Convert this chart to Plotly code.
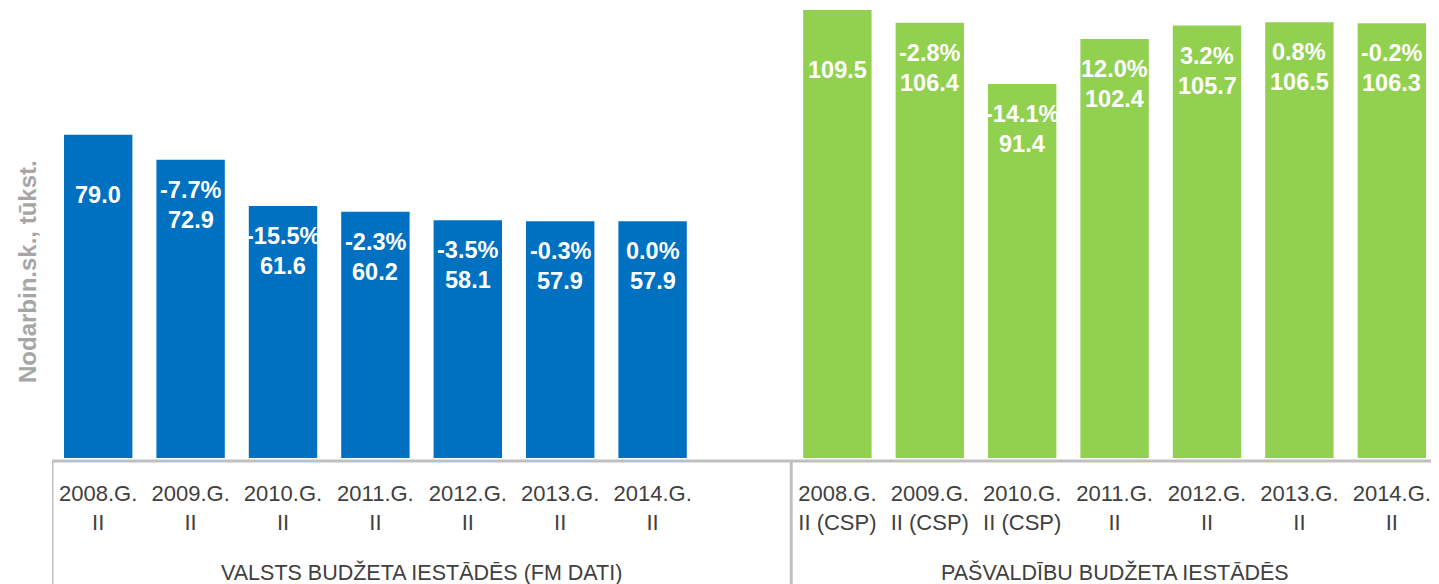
import plotly.graph_objects as go

# ---- data ----
left_labels = ["2008.G.<br>II", "2009.G.<br>II", "2010.G.<br>II", "2011.G.<br>II",
               "2012.G.<br>II", "2013.G.<br>II", "2014.G.<br>II"]
left_values = [79.0, 72.9, 61.6, 60.2, 58.1, 57.9, 57.9]
left_pct = ["", "-7.7%", "-15.5%", "-2.3%", "-3.5%", "-0.3%", "0.0%"]

right_labels = ["2008.G.<br>II (CSP)", "2009.G.<br>II (CSP)", "2010.G.<br>II (CSP)", "2011.G.<br>II",
                "2012.G.<br>II", "2013.G.<br>II", "2014.G.<br>II"]
right_values = [109.5, 106.4, 91.4, 102.4, 105.7, 106.5, 106.3]
right_pct = ["", "-2.8%", "-14.1%", "12.0%", "3.2%", "0.8%", "-0.2%"]

group_left = "VALSTS BUDŽETA IESTĀDĒS (FM DATI)"
group_right = "PAŠVALDĪBU BUDŽETA IESTĀDĒS"
y_title = "Nodarbin.sk., tūkst."

# positions: left group 0..6, empty slot 7, right group 8..14
left_x = list(range(len(left_values)))
right_x = [len(left_values) + 1 + i for i in range(len(right_values))]

BLUE = "#0070C0"
GREEN = "#92D050"
GREY = "#BFBFBF"
TXT = "#404040"
FONT = "Liberation Sans, Arial, sans-serif"

# page body has an 8px default margin; compensate so the screen layout matches
OFF = 8
W, H = 1439 - OFF, 584 - OFF
ml, mr, mt = 52 - OFF, 1, 0
plot_bottom = 458 - OFF
mb = H - plot_bottom
pw, ph = W - ml - mr, H - mt - mb
YMAX = 110.0

def py(screen_y):
    """screen pixel y -> paper y"""
    return (plot_bottom - (screen_y - OFF)) / ph

def px(screen_x):
    return (screen_x - OFF - ml) / pw

fig = go.Figure()
fig.add_trace(go.Bar(x=left_x, y=left_values, marker=dict(color=BLUE, line=dict(width=0)),
                     hoverinfo="skip", showlegend=False))
fig.add_trace(go.Bar(x=right_x, y=right_values, marker=dict(color=GREEN, line=dict(width=0)),
                     hoverinfo="skip", showlegend=False))

annotations = []
for xs, vals, pcts in [(left_x, left_values, left_pct), (right_x, right_values, right_pct)]:
    for x, v, p in zip(xs, vals, pcts):
        annotations.append(dict(x=x, y=v, xref="x", yref="y", text=f"{v:.1f}", showarrow=False,
                                yanchor="middle", yshift=-60,
                                font=dict(family=FONT, size=23.5, color="white", weight="bold")))
        if p:
            annotations.append(dict(x=x, y=v, xref="x", yref="y", text=p, showarrow=False,
                                    yanchor="middle", yshift=-30,
                                    font=dict(family=FONT, size=23.5, color="white", weight="bold")))

# group labels
annotations.append(dict(x=3.5, y=py(572), xref="x", yref="paper", text=group_left, showarrow=False,
                        yanchor="middle", font=dict(family=FONT, size=21.5, color=TXT)))
annotations.append(dict(x=11, y=py(572), xref="x", yref="paper", text=group_right, showarrow=False,
                        yanchor="middle", font=dict(family=FONT, size=21.5, color=TXT)))
# y axis title
annotations.append(dict(x=px(27), y=py(272), xref="paper", yref="paper", text=y_title, showarrow=False,
                        textangle=-90, xanchor="center", yanchor="middle",
                        font=dict(family=FONT, size=24, color="#A6A6A6", weight="bold")))

line_y = py(461)
shapes = [
    dict(type="line", xref="paper", yref="paper", x0=0, x1=1.01, y0=line_y, y1=line_y,
         line=dict(color=GREY, width=3)),
    dict(type="line", xref="x", yref="paper", x0=-0.5, x1=-0.5, y0=line_y, y1=py(590),
         line=dict(color=GREY, width=3)),
    dict(type="line", xref="x", yref="paper", x0=7.5, x1=7.5, y0=line_y, y1=py(590),
         line=dict(color=GREY, width=3)),
]

fig.update_layout(
    width=W, height=H,
    margin=dict(l=ml, r=mr, t=mt, b=mb, autoexpand=False),
    paper_bgcolor="white", plot_bgcolor="white",
    bargap=0.26,
    annotations=annotations,
    shapes=shapes,
    xaxis=dict(range=[-0.5, 14.5], tickmode="array", tickvals=left_x + right_x,
               ticktext=left_labels + right_labels, showgrid=False, zeroline=False,
               showline=False, ticks="outside", ticklen=16, tickcolor="rgba(0,0,0,0)",
               tickfont=dict(family=FONT, size=22, color=TXT), automargin=False),
    yaxis=dict(range=[0, YMAX], showgrid=False, zeroline=False, showticklabels=False,
               showline=False, automargin=False),
)

fig.write_html("out.html")
